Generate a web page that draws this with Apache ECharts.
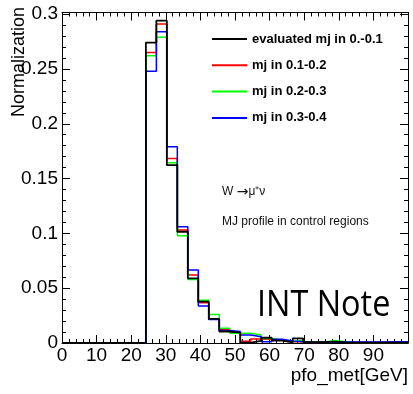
<!DOCTYPE html>
<html><head><meta charset="utf-8">
<script src="https://cdn.jsdelivr.net/npm/echarts@6/dist/echarts.min.js"></script>
<style>html,body{margin:0;padding:0;background:#fff}#c{width:413px;height:394px}</style>
</head><body><div id="c"></div>
<script>
// bin edges (GeV) for the non-empty part of the histogram (33 bins over 0-100)
const binEdges = [24.24, 27.27, 30.30, 33.33, 36.36, 39.39, 42.42, 45.45, 48.48, 51.52, 54.55, 57.58, 60.61, 63.64, 66.67, 69.70, 72.73, 75.76, 78.79, 81.82, 84.85, 87.88, 90.91, 93.94, 96.97, 100];
const seriesNames = ['evaluated mj in 0.-0.1', 'mj in 0.1-0.2', 'mj in 0.2-0.3', 'mj in 0.3-0.4'];
const mj00_01 = [0.274, 0.294, 0.1623, 0.1015, 0.059, 0.0377, 0.022, 0.0105, 0.0095, 0.0003, 0.002, 0.0048, 0.0022, 0.0006, 0.0043, 0.0008, 0.0008, 0.0012, 0.0005, 0.0004, 0.0003, 0.0004, 0.0003, 0.0003, 0.0003];
const mj01_02 = [0.265, 0.291, 0.1684, 0.103, 0.062, 0.0368, 0.022, 0.012, 0.0095, 0.0015, 0.0036, 0.0033, 0.0025, 0.0012, 0.0012, 0.0005, 0.0008, 0.001, 0.0006, 0.0005, 0.0004, 0.0004, 0.0004, 0.0004, 0.0004];
const mj02_03 = [0.262, 0.279, 0.1644, 0.0978, 0.058, 0.039, 0.026, 0.0134, 0.009, 0.0088, 0.0073, 0.0042, 0.0028, 0.0012, 0.0027, 0.0006, 0.0008, 0.0022, 0.0012, 0.0005, 0.0004, 0.0004, 0.0005, 0.0005, 0.0005];
const mj03_04 = [0.248, 0.284, 0.179, 0.106, 0.0665, 0.0338, 0.0215, 0.0115, 0.0105, 0.0073, 0.0058, 0.0012, 0.0034, 0.0018, 0.0012, 0.0005, 0.0006, 0.0006, 0.0008, 0.0008, 0.0008, 0.001, 0.001, 0.0012, 0.0012];
const xTicks = [0, 10, 20, 30, 40, 50, 60, 70, 80, 90];
const yTicks = [0, 0.05, 0.1, 0.15, 0.2, 0.25, 0.3];

function histPoints(vals) {
  const pts = [[0, 0]];
  for (let i = 0; i < vals.length; i++) pts.push([binEdges[i], vals[i]]);
  pts.push([binEdges[binEdges.length - 1], vals[vals.length - 1]]);
  return pts;
}
const FONT = 'Liberation Sans, Arial, Helvetica, sans-serif';
const chart = echarts.init(document.getElementById('c'), null, {renderer: 'canvas'});
const axisCommon = {
  axisLine: {show: true, onZero: false, lineStyle: {color: '#000', width: 1}},
  axisTick: {show: true, inside: true, length: 8, lineStyle: {color: '#000', width: 1}},
  minorTick: {show: true, splitNumber: 5, length: 4, lineStyle: {color: '#000', width: 1}},
  splitLine: {show: false}
};
const mk = (name, color, vals, width, z) => ({
  name, type: 'line', step: 'end', data: histPoints(vals), symbol: 'none',
  lineStyle: {color, width}, itemStyle: {color}, z, animation: false
});
chart.setOption({
  animation: false,
  backgroundColor: '#fff',
  grid: {left: 62, right: 5, top: 12.5, bottom: 51, show: false},
  xAxis: [
    Object.assign({type: 'value', min: 0, max: 100, interval: 10, position: 'bottom',
      axisLabel: {show: true, color: '#000', fontSize: 19, fontFamily: FONT, margin: 3, showMaxLabel: false,
        formatter: v => xTicks.includes(v) ? String(v) : ''}}, axisCommon),
    Object.assign({type: 'value', min: 0, max: 100, interval: 10, position: 'top', axisLabel: {show: false}}, axisCommon)
  ],
  yAxis: [
    Object.assign({type: 'value', min: 0, max: 0.3015, interval: 0.05, position: 'left',
      axisLabel: {show: true, color: '#000', fontSize: 19, fontFamily: FONT, margin: 4, showMaxLabel: false,
        formatter: v => { const t = yTicks.find(k => Math.abs(k - v) < 1e-9); return t === undefined ? '' : String(t); }}}, axisCommon),
    Object.assign({type: 'value', min: 0, max: 0.3015, interval: 0.05, position: 'right', axisLabel: {show: false}}, axisCommon)
  ],
  legend: {
    left: 207, top: 26, orient: 'vertical', itemWidth: 35, itemHeight: 2, itemGap: 10.3, icon: 'rect',
    data: seriesNames,
    textStyle: {fontFamily: FONT, fontWeight: 'bold', fontSize: 13, color: '#000', lineHeight: 16},
    selectedMode: false
  },
  series: [
    mk(seriesNames[1], '#ff0000', mj01_02, 1.5, 2),
    mk(seriesNames[2], '#00ff00', mj02_03, 1.5, 3),
    mk(seriesNames[3], '#0000ff', mj03_04, 1.5, 4),
    mk(seriesNames[0], '#000000', mj00_01, 1.8, 5)
  ],
  graphic: [
    {type: 'text', left: 10, top: 7, rotation: Math.PI / 2, style: {text: 'Normalization', font: '18px ' + FONT, fill: '#000'}, originX: 0, originY: 0},
    {type: 'text', right: 5, top: 366, style: {text: 'pfo_met[GeV]', font: '19px ' + FONT, fill: '#000'}},
    {type: 'text', left: 222, top: 185, style: {text: '{w|W }{a|\u2192}{w|\u03bc\u207a\u03bd}', rich: {w: {font: '12px ' + FONT, fill: '#111'}, a: {font: '14px "DejaVu Sans"', fill: '#111'}}}},
    {type: 'text', left: 222, top: 216, style: {text: 'MJ profile in control regions', font: '12px ' + FONT, fill: '#111'}},
    {type: 'text', left: 257, top: 288, style: {text: 'INT Note', font: '36px "Open Sans", sans-serif', fill: '#000'}, scaleX: 0.9}
  ]
});
</script></body></html>
